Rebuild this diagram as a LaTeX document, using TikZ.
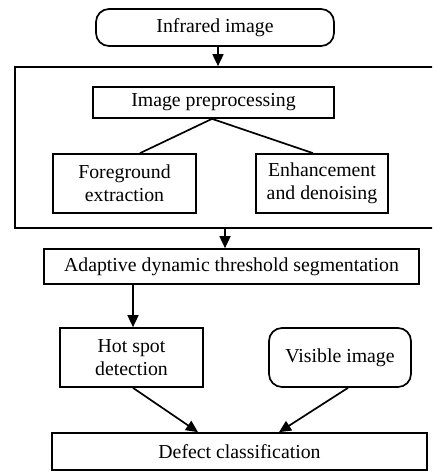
\documentclass[tikz,border=0pt]{standalone}
\usepackage{fontspec}
\setmainfont{Liberation Serif}
\usetikzlibrary{arrows.meta}
\begin{document}
\begin{tikzpicture}[x=1pt,y=-1pt,
  every node/.style={font=\fontsize{19.8}{23}\selectfont, align=center, inner sep=0pt},
  box/.style={draw, line width=1.7pt, rectangle},
  roundbox/.style={box, rounded corners=13pt},
  link/.style={line width=1.7pt},
  arr/.style={link, -{Triangle[length=12pt,width=11pt]}}]
\useasboundingbox (0,0) rectangle (432,471);
\clip (0,0) rectangle (432,471);

% input
\node[roundbox, minimum width=238pt, minimum height=37pt] (inf) at (215,27.5) {Infrared image};

% preprocessing group (runs off the right edge)
\node[box, minimum width=430pt, minimum height=161pt] (grp) at (230,147.5) {};
\node[box, minimum width=241pt, minimum height=31pt] (prep) at (213.5,102.5) {Image preprocessing};
\node[box, minimum width=143pt, minimum height=59pt] (fg) at (124.5,183.5) {Foreground\\extraction};
\node[box, minimum width=132pt, minimum height=59pt] (enh) at (322,183.5) {Enhancement\\and denoising};

% segmentation and detection
\node[box, minimum width=375pt, minimum height=35pt] (adapt) at (231.5,266.5) {Adaptive dynamic threshold segmentation};
\node[box, minimum width=143pt, minimum height=59pt] (hot) at (131.5,357.5) {Hot spot\\detection};
\node[roundbox, minimum width=142pt, minimum height=59pt] (vis) at (340,357.5) {Visible image};
\node[box, minimum width=375pt, minimum height=37pt] (def) at (239.5,451.5) {Defect classification};

% connectors
\draw[arr] ([xshift=3pt]inf.south) -- ([xshift=3pt]inf.south |- grp.north);
\draw[link] ([xshift=-1.5pt]prep.south) -- ([xshift=15.5pt]fg.north);
\draw[link] ([xshift=-1.5pt]prep.south) -- ([xshift=-9pt]enh.north);
\draw[arr] ([xshift=-5pt]grp.south) -- ([xshift=-5pt]grp.south |- adapt.north);
\draw[arr] ([xshift=1.5pt]hot.north |- adapt.south) -- ([xshift=1.5pt]hot.north);
\draw[arr] ([xshift=1.5pt]hot.south) -- ([xshift=-41.5pt]def.north);
\draw[arr] ([xshift=8pt]vis.south) -- ([xshift=39.5pt]def.north);
\end{tikzpicture}
\end{document}
